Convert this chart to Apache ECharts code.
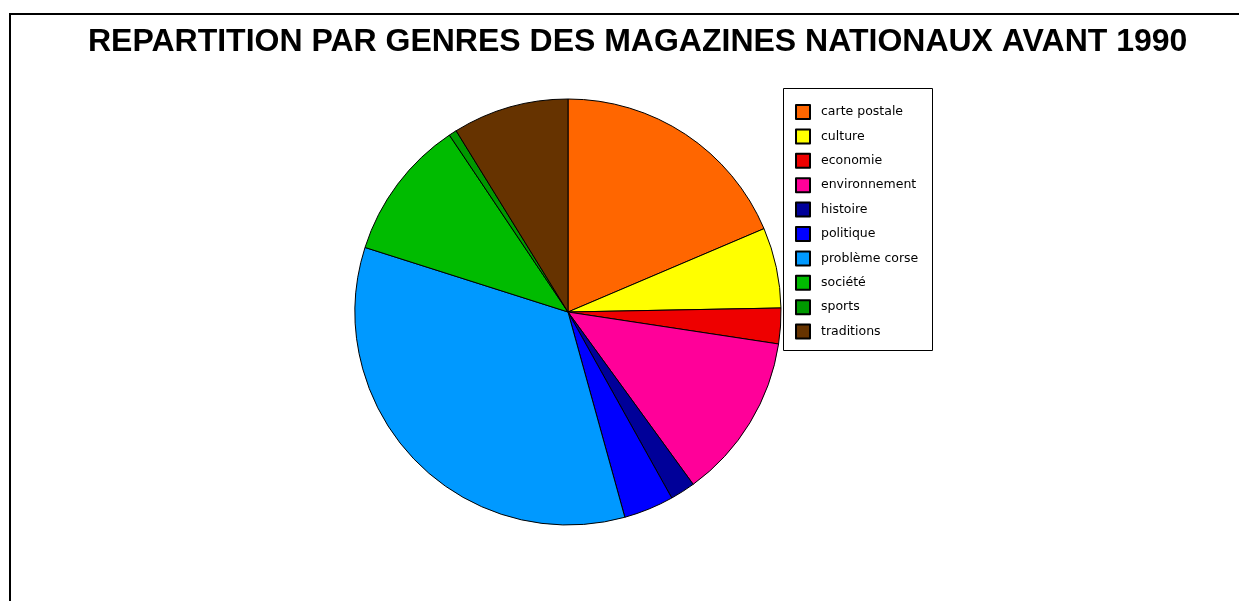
<!DOCTYPE html>
<html>
<head>
<meta charset="utf-8">
<script src="https://cdn.jsdelivr.net/npm/echarts@6/dist/echarts.min.js"></script>
<style>
html,body{margin:0;padding:0;background:#fff;}
#c{width:1239px;height:601px;}
</style>
</head>
<body>
<div id="c"></div>
<script>
var categories = ['carte postale','culture','economie','environnement','histoire','politique','problème corse','société','sports','traditions'];
var values = [18.6, 6.1, 2.7, 12.6, 1.9, 3.8, 34.2, 10.7, 0.6, 8.8];
var colors = ['#FF6600','#FFFF00','#EE0000','#FF0099','#000099','#0000FF','#0099FF','#00BB00','#009900','#663300'];
var titleText = 'REPARTITION PAR GENRES DES MAGAZINES NATIONAUX AVANT 1990';

var chart = echarts.init(document.getElementById('c'));
chart.setOption({
  backgroundColor: '#ffffff',
  animation: false,
  title: {
    text: titleText,
    left: 88,
    top: 26,
    padding: 0,
    textStyle: {fontFamily: 'Liberation Sans, Arial, sans-serif', fontWeight: 'bold', fontSize: 32, color: '#000'}
  },
  legend: {
    orient: 'vertical',
    left: 783,
    top: 88,
    padding: [16, 10, 12, 12],
    itemWidth: 14,
    itemHeight: 14,
    itemGap: 8.4,
    icon: 'rect',
    data: categories,
    textStyle: {fontFamily: 'DejaVu Sans, sans-serif', fontSize: 12.5, lineHeight: 14, color: '#000', padding: [0,0,0,6]},
    selectedMode: false
  },
  graphic: [
    {type: 'line', shape: {x1: 10, y1: 14, x2: 1239, y2: 14}, style: {stroke: '#000', lineWidth: 2}},
    {type: 'line', shape: {x1: 10, y1: 13, x2: 10, y2: 601}, style: {stroke: '#000', lineWidth: 2}},
    {type: 'rect', shape: {x: 783.5, y: 88.5, width: 149, height: 262}, style: {fill: null, stroke: '#000', lineWidth: 1}}
  ],
  series: [{
    type: 'pie',
    center: [568, 312],
    radius: 213,
    startAngle: 90,
    clockwise: true,
    label: {show: false},
    labelLine: {show: false},
    silent: true,
    itemStyle: {borderColor: '#000', borderWidth: 1},
    data: categories.map(function (n, i) { return {name: n, value: values[i], itemStyle: {color: colors[i]}}; })
  }]
});
</script>
</body>
</html>
